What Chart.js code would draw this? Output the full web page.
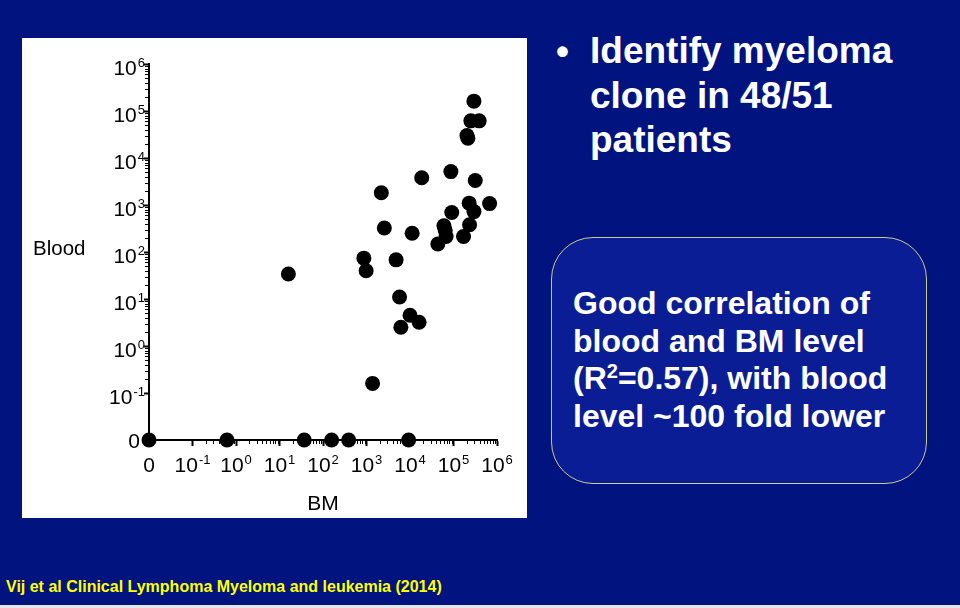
<!DOCTYPE html>
<html>
<head>
<meta charset="utf-8">
<script src="https://cdn.jsdelivr.net/npm/chart.js@4/dist/chart.umd.min.js"></script>
<style>
  html, body { margin: 0; padding: 0; }
  body {
    width: 960px; height: 608px; overflow: hidden; position: relative;
    background: #00137f;
    font-family: "Liberation Sans", Arial, sans-serif;
  }
  #plot { position: absolute; left: 22px; top: 38px; width: 505px; height: 480px; background: #fff; }
  #plot canvas { position: absolute; left: 0; top: 0; }
  #blood { position: absolute; left: 11px; top: 198px; font-size: 20.5px; line-height: 24px; color: #000; }
  #bullet { position: absolute; left: 556px; top: 30px; color: #fff; font-weight: bold; font-size: 37px; line-height: 44.5px; }
  #points { position: absolute; left: 590px; top: 29px; color: #fff; font-weight: bold; font-size: 37px; line-height: 44.5px; white-space: nowrap; }
  #note {
    position: absolute; left: 551px; top: 237px; width: 374px; height: 245px;
    border: 1.5px solid #c9cc8a; border-radius: 42px; background: #0a1d95;
  }
  #noteText {
    position: absolute; left: 573px; top: 285px; color: #fff; font-weight: bold;
    font-size: 32px; line-height: 37.6px; white-space: nowrap;
  }
  #noteText sup { font-size: 20px; line-height: 0; vertical-align: 11px; }
  #cite {
    position: absolute; left: 6px; top: 578px; color: #ffff00; font-weight: bold;
    font-size: 16px; line-height: 18px; white-space: nowrap;
  }
  #strip { position: absolute; left: 0; top: 605px; width: 960px; height: 3px; background: #e4e6ee; }
</style>
</head>
<body>
<div id="plot">
  <canvas id="scatter" width="505" height="480"></canvas>
  <div id="blood">Blood</div>
</div>
<div id="bullet">•</div>
<div id="points">Identify myeloma<br>clone in 48/51<br>patients</div>
<div id="note"></div>
<div id="noteText">Good correlation of<br>blood and BM level<br>(R<sup>2</sup>=0.57), with blood<br>level ~100 fold lower</div>
<div id="cite">Vij et al Clinical Lymphoma Myeloma and leukemia (2014)</div>
<div id="strip"></div>
<script>
// BM and blood levels per patient (0 = not detected)
const bmValues = [
  0, 0.62, 37, 158, 389, 9300,
  16, 870, 980, 1380, 2190, 2570, 4790, 5750, 6170, 10000, 11200, 16200,
  18600, 43600, 60300, 64600, 67600, 87100, 91200, 170000, 204000, 214000,
  229000, 234000, 251000, 295000, 295000, 316000, 389000, 676000
];
const bloodValues = [
  0, 0, 0, 0, 0, 0,
  34, 74, 40, 0.16, 1820, 324, 68, 11, 2.5, 4.5, 251, 3.2,
  3800, 148, 363, 288, 214, 5130, 692, 214, 30200, 26300,
  1096, 380, 61700, 162000, 724, 3310, 61700, 1070
];

// axis ticks (log10 position), label text and its exponent
const tickExponents = [-2, -1, 0, 1, 2, 3, 4, 5, 6];
const tickBase = ["0", "10", "10", "10", "10", "10", "10", "10", "10"];
const tickSup = ["", "-1", "0", "1", "2", "3", "4", "5", "6"];

const ZERO_AT = -2; // where "0" sits on the broken log axis

function toLog(v) {
  return v === 0 ? ZERO_AT : Math.log10(v);
}

const points = bmValues.map((bm, i) => ({ x: toLog(bm), y: toLog(bloodValues[i]) }));

const FAMILY = "'Liberation Sans', Arial, sans-serif";

function setTicks(scale) {
  scale.ticks = tickExponents.map(v => ({ value: v }));
}

// small log-decade ticks along both axes
const minorTicks = {
  id: "minorTicks",
  beforeDatasetsDraw(chart) {
    const { ctx, chartArea, scales } = chart;
    ctx.save();
    ctx.strokeStyle = "#000";
    ctx.lineWidth = 1;
    ctx.beginPath();
    for (let d = -1; d < 6; d++) {
      for (let k = 2; k < 10; k++) {
        const v = d + Math.log10(k);
        const px = Math.round(scales.x.getPixelForValue(v)) + 0.5;
        ctx.moveTo(px, chartArea.bottom);
        ctx.lineTo(px, chartArea.bottom + 4);
        const py = Math.round(scales.y.getPixelForValue(v)) + 0.5;
        ctx.moveTo(chartArea.left, py);
        ctx.lineTo(chartArea.left - 4, py);
      }
    }
    ctx.stroke();
    ctx.restore();
  }
};

// tick labels as 10 with a raised exponent
function drawPower(ctx, i, x, baseline, align) {
  ctx.font = "21px " + FAMILY;
  const wb = ctx.measureText(tickBase[i]).width;
  ctx.font = "13px " + FAMILY;
  const ws = tickSup[i] ? ctx.measureText(tickSup[i]).width + 1 : 0;
  const left = align === "right" ? x - wb - ws : x - (wb + ws) / 2;
  ctx.font = "21px " + FAMILY;
  ctx.fillText(tickBase[i], left, baseline);
  if (tickSup[i]) {
    ctx.font = "13px " + FAMILY;
    ctx.fillText(tickSup[i], left + wb + 1, baseline - 8);
  }
}

const powerLabels = {
  id: "powerLabels",
  afterDraw(chart) {
    const { ctx, chartArea, scales } = chart;
    ctx.save();
    ctx.fillStyle = "#000";
    ctx.textAlign = "left";
    ctx.textBaseline = "alphabetic";
    tickExponents.forEach((v, i) => {
      const px = scales.x.getPixelForValue(v);
      drawPower(ctx, i, px, chartArea.bottom + 32, "center");
      const py = scales.y.getPixelForValue(v);
      const dy = tickSup[i] ? 10.5 : 7.5;
      drawPower(ctx, i, chartArea.left - (tickSup[i] ? 4 : 9), py + dy, "right");
    });
    ctx.restore();
  }
};

new Chart(document.getElementById("scatter"), {
  type: "scatter",
  data: {
    datasets: [{
      data: points,
      pointRadius: 7.5,
      pointHoverRadius: 7.5,
      backgroundColor: "#000",
      borderWidth: 0,
      clip: false
    }]
  },
  options: {
    responsive: false,
    animation: false,
    layout: { padding: { left: 67, right: 30, top: 26, bottom: 1 } },
    plugins: { legend: { display: false }, tooltip: { enabled: false } },
    scales: {
      x: {
        type: "linear",
        min: -2,
        max: 6,
        afterBuildTicks: setTicks,
        afterFit: s => { s.height = 77; },
        ticks: { display: false },
        grid: { drawOnChartArea: false, drawTicks: true, tickLength: 6, tickColor: "#000", tickWidth: 2 },
        border: { color: "#000", width: 2 },
        title: { display: true, text: "BM", color: "#000", font: { family: FAMILY, size: 21 }, padding: 0 }
      },
      y: {
        type: "linear",
        min: -2,
        max: 6,
        afterBuildTicks: setTicks,
        afterFit: s => { s.width = 60; },
        ticks: { display: false },
        grid: { drawOnChartArea: false, drawTicks: true, tickLength: 5, tickColor: "#000", tickWidth: 2 },
        border: { color: "#000", width: 2 }
      }
    }
  },
  plugins: [minorTicks, powerLabels]
});
</script>
</body>
</html>
